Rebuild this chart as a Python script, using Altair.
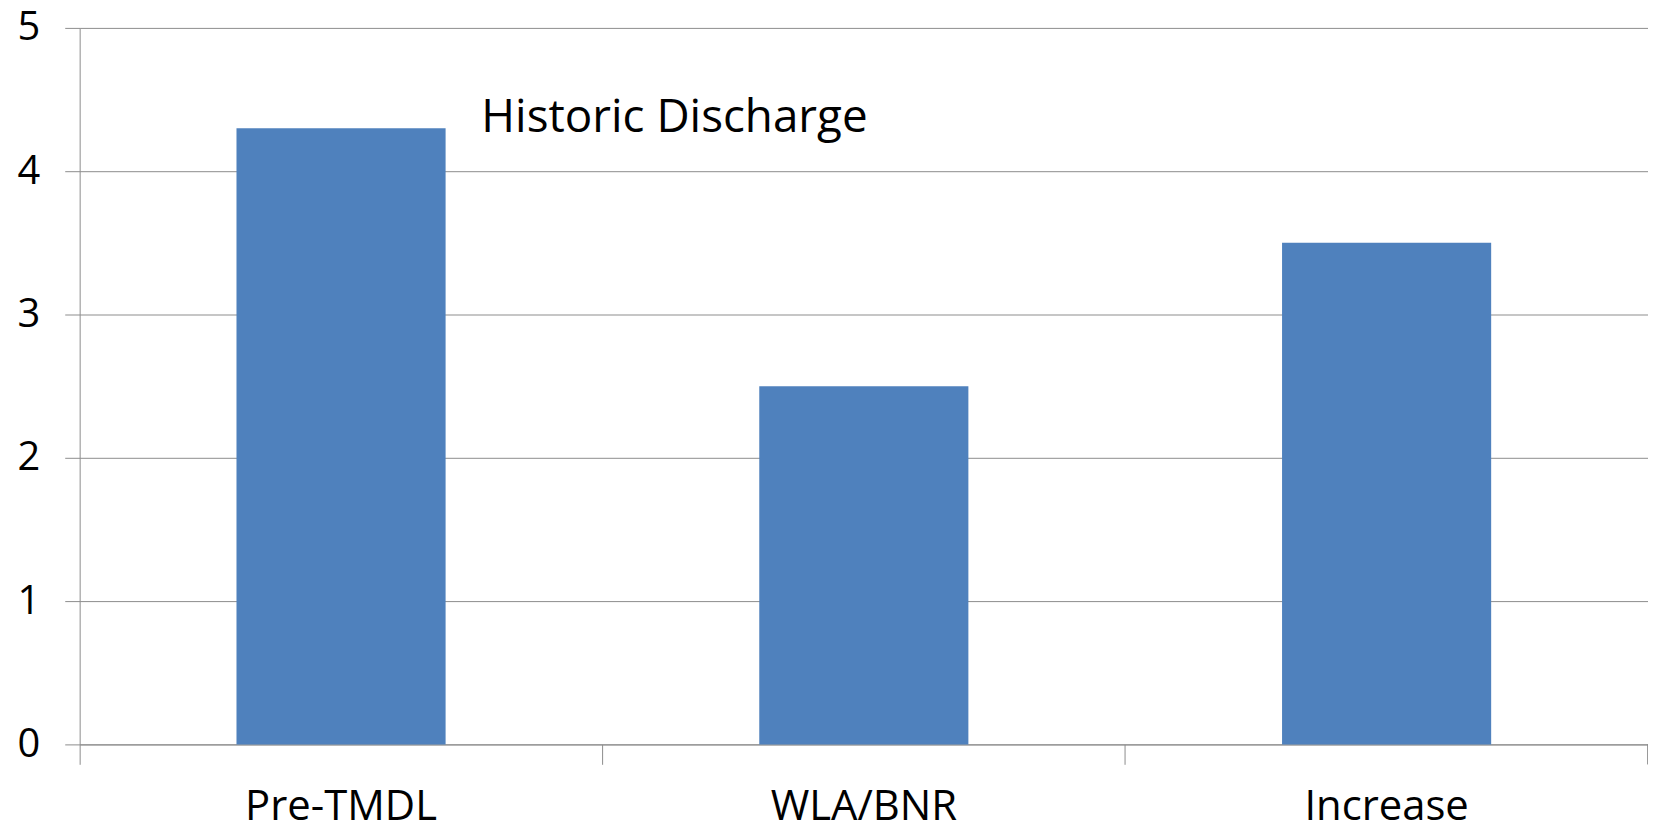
import altair as alt
import pandas as pd

categories = ["Pre-TMDL", "WLA/BNR", "Increase"]
values = [4.3, 2.5, 3.5]
y_ticks = [0, 1, 2, 3, 4, 5]
note_text = ["Historic Discharge"]
note_cat = ["Pre-TMDL"]
note_y = [4.37]

df = pd.DataFrame({"cat": categories, "val": values})
note = pd.DataFrame({"cat": note_cat, "y": note_y, "t": note_text})

FONT = "Open Sans"
GRAY = "#8c8c8c"

x = alt.X("cat:N", sort=categories, title=None,
          scale=alt.Scale(paddingInner=0, paddingOuter=0),
          axis=alt.Axis(labelAngle=0, bandPosition=0, tickSize=20, tickColor=GRAY,
                        domainColor=GRAY, labelFontSize=42, labelFont=FONT, labelLimit=0,
                        labelColor="black", labelPadding=22, grid=False))
y = alt.Y("val:Q", title=None,
          scale=alt.Scale(domain=[0, 5], nice=False),
          axis=alt.Axis(values=y_ticks, format="d", tickSize=15, tickColor=GRAY,
                        domainColor=GRAY, gridColor=GRAY, grid=True, labelFontSize=40,
                        labelFont=FONT, labelColor="black", labelPadding=25))

bars = alt.Chart(df).mark_bar(color="#4F81BD", width=alt.RelativeBandSize(0.4)).encode(x=x, y=y)

endtick = alt.Chart(df).mark_rule(color=GRAY).encode(
    x=alt.value(1576), y=alt.value(720), y2=alt.value(740))

label = alt.Chart(note).mark_text(align="left", baseline="middle", fontSize=46, font=FONT,
                                  color="black", dx=141).encode(
    x=alt.X("cat:N", sort=categories, bandPosition=0.5),
    y=alt.Y("y:Q"), text="t:N")

chart = alt.layer(bars, endtick, label).properties(
    width=1576, height=720,
    autosize=alt.AutoSizeParams(type="none"),
    padding={"left": 72, "top": 18, "right": 0, "bottom": 82},
).configure_view(stroke=None)

chart.save("out.html", embed_options={"renderer": "svg", "actions": False})
